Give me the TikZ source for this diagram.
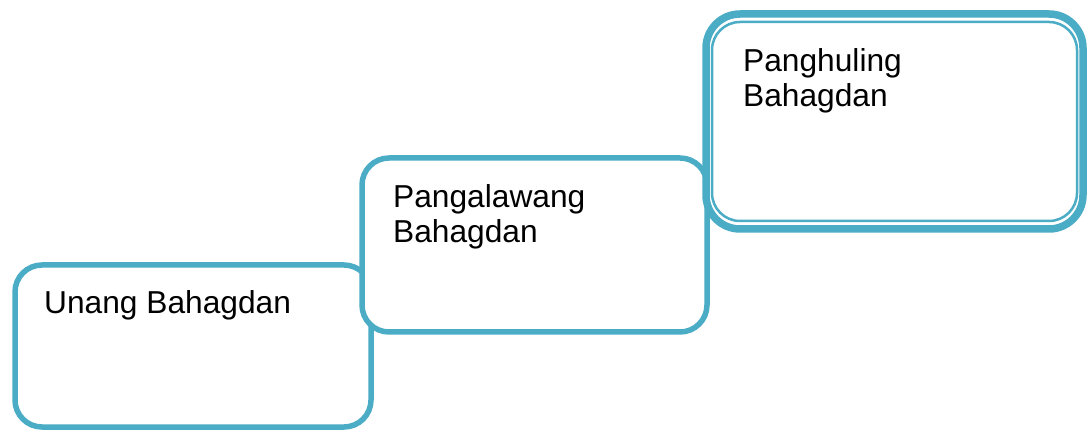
\documentclass[tikz,border=0pt]{standalone}
\usepackage{fontspec}
\setmainfont{Liberation Sans}
\definecolor{teal5}{HTML}{4BACC6}
\begin{document}
\begin{tikzpicture}[x=1pt,y=-1pt,
  stagebox/.style={draw=teal5, fill=white, rectangle, inner sep=0pt, line width=5.5pt, rounded corners=27pt},
  outerbox/.style={draw=teal5, fill=white, rectangle, inner sep=0pt, line width=7.5pt, rounded corners=34pt},
  innerbox/.style={draw=teal5, rectangle, inner sep=0pt, line width=2.5pt, rounded corners=28pt},
  lbl/.style={anchor=base west, inner sep=0pt, font=\fontsize{31.7}{35}\selectfont, align=left}]
\useasboundingbox (0,0) rectangle (1087,430);
\node[stagebox, minimum width=356pt, minimum height=162pt] (b1) at (193,346) {};
\node[stagebox, minimum width=345pt, minimum height=174pt] (b2) at (534.5,245) {};
\node[outerbox, minimum width=377pt, minimum height=215pt] (b3) at (894.5,121.5) {};
\node[innerbox, minimum width=365pt, minimum height=199pt] (b3in) at (b3.center) {};
\node[lbl] (t1) at (44,313) {Unang Bahagdan};
\node[lbl] (t2a) at (393,208) {Pangalawang};
\node[lbl] (t2b) at (393,243) {Bahagdan};
\node[lbl] (t3a) at (743,72) {Panghuling};
\node[lbl] (t3b) at (743,107) {Bahagdan};
\end{tikzpicture}
\end{document}
